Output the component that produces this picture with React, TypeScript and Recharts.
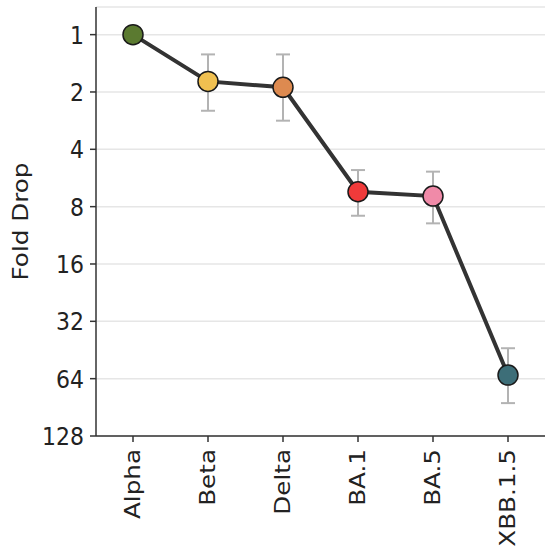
import React from 'react';
import { LineChart, Line, XAxis, YAxis, CartesianGrid, ErrorBar } from 'recharts';

const variants = ['Alpha', 'Beta', 'Delta', 'BA.1', 'BA.5', 'XBB.1.5'];
const foldDrop = [1, 1.76, 1.89, 6.68, 7.04, 61.3];
const lowerBound = [1, 1.27, 1.27, 5.14, 5.24, 44.3];
const upperBound = [1, 2.51, 2.83, 8.93, 9.79, 86];
const markerColors = ['#5b7a30', '#f0c050', '#dd8a50', '#f03a3a', '#f08aa8', '#3d6e78'];
const yTicks = [1, 2, 4, 8, 16, 32, 64, 128];

const data = variants.map((name, i) => ({
  name,
  value: foldDrop[i],
  err: [foldDrop[i] - lowerBound[i], upperBound[i] - foldDrop[i]],
}));

const FONT = 'DejaVu Sans';
const TXT = '#222222';
const AX = '#333333';
const VS = 1.12;

const XTick = (props: any) => {
  const { x, y, payload } = props;
  return (
    <text
      x={0}
      y={0}
      transform={`translate(${x} ${y}) scale(1 ${VS}) rotate(-90)`}
      textAnchor="end"
      dy="0.33em"
      fontFamily={FONT}
      fontSize={22}
      fill={TXT}
    >
      {payload.value}
    </text>
  );
};

const YTick = (props: any) => {
  const { x, y, payload } = props;
  return (
    <text
      x={0}
      y={0}
      transform={`translate(${x} ${y}) scale(1 ${VS})`}
      textAnchor="end"
      dy="0.36em"
      fontFamily={FONT}
      fontSize={22}
      fill={TXT}
    >
      {payload.value}
    </text>
  );
};

const Dot = (props: any) => {
  const { cx, cy, index } = props;
  if (cx == null || cy == null) return null;
  return (
    <circle
      key={`dot-${index}`}
      cx={cx}
      cy={cy}
      r={10}
      fill={markerColors[index]}
      stroke="#1a1a1a"
      strokeWidth={1.5}
    />
  );
};

const YLabel = (props: any) => {
  const vb = props.viewBox || { x: 0, y: 0, width: 96, height: 429 };
  const cx = vb.x + 20;
  const cy = vb.y + vb.height / 2;
  return (
    <text
      x={0}
      y={0}
      transform={`translate(${cx} ${cy}) scale(1 ${VS}) rotate(-90)`}
      textAnchor="middle"
      dy="0.36em"
      fontFamily={FONT}
      fontSize={22}
      fill={TXT}
    >
      Fold Drop
    </text>
  );
};

export default function App() {
  return (
    <div style={{ position: 'absolute', left: 0, top: 0, width: 550, height: 548, background: '#fff' }}>
      <LineChart
        width={550}
        height={548}
        data={data}
        margin={{ top: 7, right: 5, bottom: 0, left: 0 }}
      >
        <CartesianGrid vertical={false} stroke="#e6e6e6" strokeWidth={1.5} />
        <XAxis
          dataKey="name"
          height={112}
          padding={{ left: 37, right: 37 }}
          tick={<XTick />}
          tickSize={6}
          tickMargin={7}
          tickLine={{ stroke: AX, strokeWidth: 1.5 }}
          axisLine={{ stroke: AX, strokeWidth: 1.5 }}
          interval={0}
        />
        <XAxis
          xAxisId="top"
          dataKey="name"
          orientation="top"
          height={0}
          tick={false}
          tickLine={false}
          axisLine={{ stroke: AX, strokeWidth: 1.5 }}
        />
        <YAxis
          scale="log"
          domain={[0.716, 128]}
          allowDataOverflow
          reversed
          ticks={yTicks}
          interval={0}
          width={96}
          tick={<YTick />}
          tickSize={6}
          tickMargin={6}
          tickLine={{ stroke: AX, strokeWidth: 1.5 }}
          axisLine={{ stroke: AX, strokeWidth: 1.5 }}
          label={<YLabel />}
        />
        <YAxis
          yAxisId="right"
          orientation="right"
          width={0}
          tick={false}
          tickLine={false}
          axisLine={{ stroke: AX, strokeWidth: 1.5 }}
        />
        <Line
          dataKey="value"
          stroke="#333333"
          strokeWidth={4}
          dot={<Dot />}
          activeDot={false}
          isAnimationActive={false}
        >
          <ErrorBar dataKey="err" width={7} stroke="#b3b3b3" strokeWidth={2} direction="y" />
        </Line>
      </LineChart>
    </div>
  );
}
